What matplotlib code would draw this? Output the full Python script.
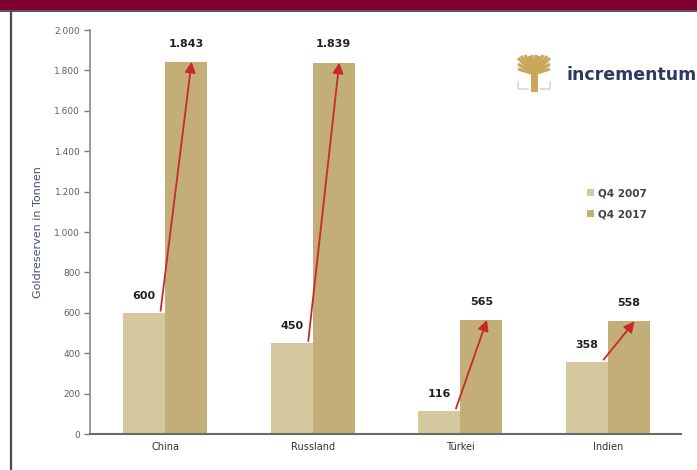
import matplotlib.pyplot as plt
from matplotlib.patches import Patch, Rectangle
from matplotlib.lines import Line2D
from matplotlib.ticker import FuncFormatter

countries = ["China", "Russland", "Türkei", "Indien"]
gold_2007 = [600, 450, 116, 358]
gold_2017 = [1843, 1839, 565, 558]
y_ticks = [0, 200, 400, 600, 800, 1000, 1200, 1400, 1600, 1800, 2000]

c_2007 = "#d6c89e"
c_2017 = "#c4ae77"
c_arrow = "#c9282b"


def de_num(v, pos=None):
    return f"{int(v):,}".replace(",", ".")


fig = plt.figure(figsize=(6.97, 4.70), dpi=100)
fig.patch.set_facecolor("white")

# header band and page frame
fig.patches.append(Rectangle((0, 1 - 10 / 470), 1, 10 / 470, transform=fig.transFigure,
                             facecolor="#7f0030", edgecolor="none", zorder=0))
fig.add_artist(Line2D([0, 1], [1 - 10.5 / 470] * 2, transform=fig.transFigure,
                      color="#3a3a3a", lw=1.2))
fig.add_artist(Line2D([10.5 / 697] * 2, [0, 1 - 10.5 / 470], transform=fig.transFigure,
                      color="#4a4a4a", lw=1.6))

ax = fig.add_axes([90 / 697, 1 - 434 / 470, (681 - 90) / 697, (434 - 30) / 470])

x = list(range(len(countries)))
w = 0.284
ax.bar([i - w / 2 for i in x], gold_2007, width=w, color=c_2007, label="Q4 2007", zorder=2)
ax.bar([i + w / 2 for i in x], gold_2017, width=w, color=c_2017, label="Q4 2017", zorder=2)

for i in x:
    ax.annotate(de_num(gold_2007[i]), (i - w / 2, gold_2007[i]), xytext=(0, 12),
                textcoords="offset points", ha="center", va="center",
                fontsize=8, fontweight="bold", color="#222222")
    ax.annotate(de_num(gold_2017[i]), (i + w / 2, gold_2017[i]), xytext=(0, 13),
                textcoords="offset points", ha="center", va="center",
                fontsize=8, fontweight="bold", color="#222222")
    ax.annotate("", xy=(i + 0.18, gold_2017[i]), xytext=(i - 0.03, gold_2007[i] + 10),
                arrowprops=dict(arrowstyle="-|>", color=c_arrow, lw=1.3,
                                mutation_scale=16, shrinkA=0, shrinkB=0),
                zorder=4)

ax.set_xlim(-0.508, 3.494)
ax.set_ylim(0, 2000)
ax.set_yticks(y_ticks)
ax.yaxis.set_major_formatter(FuncFormatter(de_num))
ax.set_xticks(x)
ax.set_xticklabels(countries, fontsize=7, color="#333333")
ax.tick_params(axis="x", length=0, pad=6)
ax.tick_params(axis="y", length=4, width=1, color="#7a7a7a", labelsize=6.5,
               labelcolor="#606060", pad=3)

for s in ("top", "right"):
    ax.spines[s].set_visible(False)
ax.spines["left"].set_color("#8a8a8a")
ax.spines["left"].set_linewidth(1.2)
ax.spines["bottom"].set_color("#6a6a6a")
ax.spines["bottom"].set_linewidth(1.5)

fig.text(38 / 697, 1 - 232 / 470, "Goldreserven in Tonnen", rotation=90,
         ha="center", va="center", fontsize=8, color="#43546b")

handles = [Patch(facecolor=c_2007, label="Q4 2007"), Patch(facecolor=c_2017, label="Q4 2017")]
leg = fig.legend(handles=handles, loc="upper left", bbox_to_anchor=(578 / 697, 1 - 179 / 470),
                 frameon=False, handlelength=0.6, handleheight=0.6, handletextpad=0.4,
                 labelspacing=1.05, prop={"size": 7.5, "weight": "bold"})
for t in leg.get_texts():
    t.set_color("#404040")

# logo: small tree and wordmark
gold = "#c9a659"
tx, ty = 534 / 697, 1 - 88 / 470
fig.add_artist(Line2D([tx, tx], [ty, ty + 16 / 470], transform=fig.transFigure,
                      color=gold, lw=5))
for dx, dy in [(-16, 30), (-13, 32), (-9, 33), (-5, 32), (-2, 33), (2, 33), (5, 32),
               (9, 33), (13, 32), (16, 30), (-16, 24), (16, 24), (-16, 19), (16, 19)]:
    fig.add_artist(Line2D([tx, tx + dx / 697], [ty + 14 / 470, ty + dy / 470],
                          transform=fig.transFigure, color=gold, lw=2.2,
                          solid_capstyle="butt"))
for xs in ([518, 518, 528], [550, 550, 540]):
    fig.add_artist(Line2D([v / 697 for v in xs], [ty + 6 / 470, ty - 1 / 470, ty - 1 / 470],
                          transform=fig.transFigure, color="#d8d8d8", lw=1.2))
fig.text(566 / 697, 1 - 75 / 470, "incrementum", ha="left", va="center",
         fontsize=12.5, fontweight="bold", color="#2b3a5e")

fig.savefig("out.png", dpi=100)
